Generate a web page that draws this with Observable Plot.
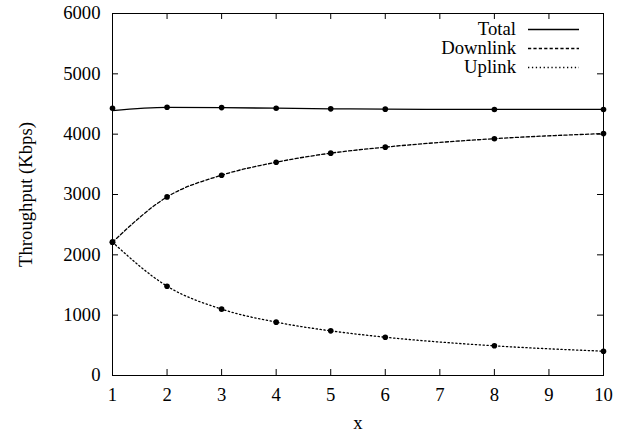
<!DOCTYPE html>
<html>
<head>
<meta charset="utf-8">
<script src="https://cdn.jsdelivr.net/npm/d3@7"></script>
<script src="https://cdn.jsdelivr.net/npm/@observablehq/plot@0.6"></script>
<style>
  html, body { margin: 0; padding: 0; background: #fff; }
</style>
</head>
<body>
<div id="chart"></div>
<script>
const xs = [1, 2, 3, 4, 5, 6, 8, 10];
const total = [4430, 4445, 4440, 4430, 4420, 4415, 4410, 4410];
const totalLine = [4390, 4445, 4440, 4430, 4420, 4415, 4410, 4410];
const downlink = [2210, 2960, 3320, 3535, 3685, 3785, 3925, 4010];
const uplink = [2210, 1480, 1100, 884, 740, 635, 492, 403];
const xTicks = [1, 2, 3, 4, 5, 6, 7, 8, 9, 10];
const yTicks = [0, 1000, 2000, 3000, 4000, 5000, 6000];
const seriesNames = ["Total", "Downlink", "Uplink"];

const dash = {Total: null, Downlink: "3.2,2.2", Uplink: "1.3,2.6"};
const lineData = {
  Total: xs.map((x, i) => ({x, y: totalLine[i]})),
  Downlink: xs.map((x, i) => ({x, y: downlink[i]})),
  Uplink: xs.map((x, i) => ({x, y: uplink[i]}))
};
const dotData = {
  Total: xs.map((x, i) => ({x, y: total[i]})),
  Downlink: xs.map((x, i) => ({x, y: downlink[i]})),
  Uplink: xs.map((x, i) => ({x, y: uplink[i]}))
};

const W = 626, H = 434, mL = 112, mR = 23, mT = 13, mB = 59;
const tick = 6;
const plotW = W - mL - mR, plotH = H - mT - mB;

const marks = [
  Plot.frame({stroke: "#000", strokeWidth: 1}),
  Plot.tickX(xTicks, {x: d => d, insetTop: plotH - tick, stroke: "#000"}),
  Plot.tickX(xTicks, {x: d => d, insetBottom: plotH - tick, stroke: "#000"}),
  Plot.tickY(yTicks, {y: d => d, insetRight: plotW - tick, stroke: "#000"}),
  Plot.tickY(yTicks, {y: d => d, insetLeft: plotW - tick, stroke: "#000"}),
  Plot.axisX({ticks: xTicks, tickSize: 0, tickPadding: 12, tickFormat: d => String(d),
    label: "x", labelAnchor: "center", labelOffset: 53, labelArrow: "none"}),
  Plot.axisY({ticks: yTicks, tickSize: 0, tickPadding: 12, tickFormat: d => String(d),
    label: "Throughput (Kbps)", labelAnchor: "center", labelOffset: 94, labelArrow: "none"})
];
for (const s of seriesNames) {
  marks.push(Plot.line(lineData[s], {x: "x", y: "y", curve: "monotone-x", stroke: "#000",
    strokeWidth: 1.3, strokeDasharray: dash[s]}));
}
for (const s of seriesNames) {
  marks.push(Plot.dot(dotData[s], {x: "x", y: "y", r: 2.8, fill: "#000", stroke: "none"}));
}
marks.push((index, scales, values, dims) => {
  const g = d3.create("svg:g");
  const right = dims.width - dims.marginRight;
  seriesNames.forEach((s, i) => {
    const y = dims.marginTop + 16.5 + i * 19;
    g.append("text").attr("x", right - 87).attr("y", y).attr("dy", "0.32em")
      .attr("text-anchor", "end").attr("fill", "#000").text(s);
    const ln = g.append("line").attr("x1", right - 75).attr("x2", right - 24)
      .attr("y1", y).attr("y2", y).attr("stroke", "#000").attr("stroke-width", 1.3);
    if (dash[s]) ln.attr("stroke-dasharray", dash[s]);
  });
  return g.node();
});

const chart = Plot.plot({
  width: W, height: H,
  marginLeft: mL, marginRight: mR, marginTop: mT, marginBottom: mB,
  style: {fontFamily: "'Liberation Serif', 'Times New Roman', serif", fontSize: "18.7px", color: "#000", background: "#fff"},
  x: {domain: [1, 10]},
  y: {domain: [0, 6000]},
  marks
});
document.getElementById("chart").appendChild(chart);
</script>
</body>
</html>
